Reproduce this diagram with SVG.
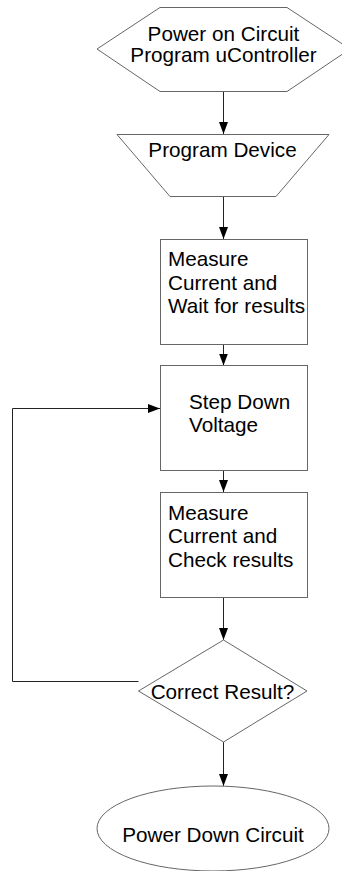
<svg xmlns="http://www.w3.org/2000/svg" width="342" height="871" viewBox="0 0 342 871">
  <style>
    .shape { fill: #ffffff; stroke: #666666; stroke-width: 1; }
    .label { font-family: "Liberation Sans", Arial, sans-serif; font-size: 20.7px; fill: #000000; }
    .mid { text-anchor: middle; }
    .conn { fill: none; stroke: #222222; stroke-width: 1; }
  </style>
  <defs>
    <marker id="arrow" markerUnits="userSpaceOnUse" markerWidth="12" markerHeight="10" refX="12" refY="4.5" orient="auto">
      <path d="M0,0 L12,4.5 L0,9 z" fill="#000000"/>
    </marker>
  </defs>
  <rect width="342" height="871" fill="#ffffff"/>

  <!-- connectors -->
  <g id="connectors">
    <path class="conn" d="M223.5,91 V134" marker-end="url(#arrow)"/>
    <path class="conn" d="M223.5,197 V239" marker-end="url(#arrow)"/>
    <path class="conn" d="M223.5,344.5 V365.5" marker-end="url(#arrow)"/>
    <path class="conn" d="M223.5,471 V492" marker-end="url(#arrow)"/>
    <path class="conn" d="M223.5,597.5 V640" marker-end="url(#arrow)"/>
    <path class="conn" d="M223.5,742 V786" marker-end="url(#arrow)"/>
    <path class="conn" d="M138.5,681.5 H12.5 V408.5 H160" marker-end="url(#arrow)"/>
  </g>

  <!-- start: hexagon -->
  <g id="start">
    <polygon class="shape" points="97,49 160,7.5 287,7.5 350,49 287,91.5 160,91.5"/>
    <text class="label mid" x="223.5" y="40.5">Power on Circuit</text>
    <text class="label mid" x="223.5" y="62">Program uController</text>
  </g>

  <!-- manual operation: trapezoid -->
  <g id="program-device">
    <polygon class="shape" points="117,134.5 329,134.5 276,196.5 170,196.5"/>
    <text class="label mid" x="222.5" y="157">Program Device</text>
  </g>

  <!-- process: measure and wait -->
  <g id="measure-wait">
    <rect class="shape" x="160.5" y="239.5" width="147" height="105"/>
    <text class="label" x="168" y="266">Measure</text>
    <text class="label" x="168" y="289.5">Current and</text>
    <text class="label" x="168" y="313">Wait for results</text>
  </g>

  <!-- process: step down -->
  <g id="step-down">
    <rect class="shape" x="160.5" y="365.5" width="147" height="105"/>
    <text class="label" x="189" y="409">Step Down</text>
    <text class="label" x="189" y="432">Voltage</text>
  </g>

  <!-- process: measure and check -->
  <g id="measure-check">
    <rect class="shape" x="160.5" y="492.5" width="147" height="105"/>
    <text class="label" x="168" y="519.5">Measure</text>
    <text class="label" x="168" y="543">Current and</text>
    <text class="label" x="168" y="566.5">Check results</text>
  </g>

  <!-- decision -->
  <g id="decision">
    <polygon class="shape" points="223.5,640 307,691 223.5,742 138.5,691"/>
    <text class="label mid" x="222.5" y="698.5">Correct Result?</text>
  </g>

  <!-- end: ellipse -->
  <g id="end">
    <ellipse class="shape" cx="213" cy="828.5" rx="116" ry="42.5"/>
    <text class="label mid" x="213" y="842">Power Down Circuit</text>
  </g>
</svg>
